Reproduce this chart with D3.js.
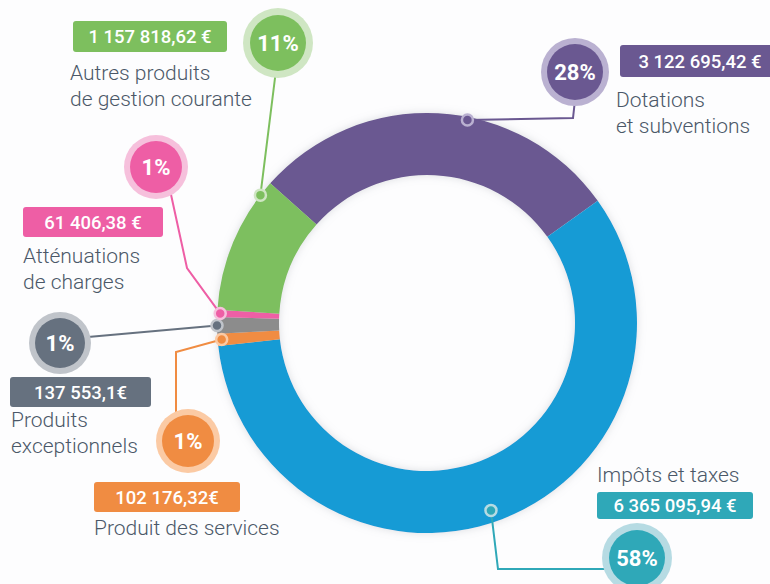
<!DOCTYPE html>
<html>
<head>
<meta charset="utf-8">
<script src="https://cdn.jsdelivr.net/npm/d3@7"></script>
<style>
  body { margin: 0; background: #fdfdfe; }
  text { font-family: Roboto, "Open Sans", sans-serif; }
  .lbl { font-size: 21px; font-weight: 300; fill: #4b5868; }
  .val { font-size: 18.5px; font-weight: 500; fill: #fff; }
  .pct { font-size: 22px; font-weight: 700; fill: #fff; }
</style>
</head>
<body>
<div id="chart"></div>
<script>
// data, clockwise from the top-left
var categories = ["Dotations et subventions", "Impôts et taxes", "Produit des services",
                  "Produits exceptionnels", "Atténuations de charges", "Autres produits de gestion courante"];
var amounts = [3122695.42, 6365095.94, 102176.32, 137553.1, 61406.38, 1157818.62];
var amountLabels = ["3 122 695,42 €", "6 365 095,94 €", "102 176,32€", "137 553,1€", "61 406,38 €", "1 157 818,62 €"];
var pctLabels = ["28%", "58%", "1%", "1%", "1%", "11%"];
var nameLines = [["Dotations", "et subventions"], ["Impôts et taxes"], ["Produit des services"],
                 ["Produits", "exceptionnels"], ["Atténuations", "de charges"], ["Autres produits", "de gestion courante"]];

var sliceColors = ["#6a5891", "#169bd5", "#f08c42", "#8c8c8c", "#ee5ea5", "#7dbf5e"];
var tagColors   = ["#6a5891", "#2fa8b8", "#f08c42", "#66717f", "#ee5ea5", "#7dbf5e"];
var paleColors  = ["#bab1d1", "#b6dbe3", "#fbcaa4", "#c0c4ca", "#f6c0dc", "#cfe6c3"];

var width = 770, height = 584;
var cx = 427, cy = 323, rOut = 210, rIn = 148;
var start = -48.3;

// callout layout (circle, tag box, text lines, elbows of the leader)
var callouts = [
  {dot: 0.58, dotR: 207, circle: [575, 72, 34, 28], box: [620, 45, 160, 32], lines: [616, 107], bend: [[573, 118], [575, 100]]},
  {dot: 0.51, dotR: 198, circle: [637, 558, 35, 28], box: [597, 492, 156, 27], lines: [597, 482], bend: [[498, 569], [610, 569]]},
  {dot: 0.5, dotR: 206, circle: [188, 441, 32, 26], box: [94, 482, 146, 30], lines: [94, 535], bend: [[176, 352], [176, 415]]},
  {dot: 0.5, dotR: 210, circle: [60, 343, 31, 25], box: [10, 377, 141, 30], lines: [11, 427], bend: [[88, 337]]},
  {dot: 0.5, dotR: 207, circle: [156, 167, 32, 26], box: [23, 207, 140, 30], lines: [23, 263], bend: [[187, 268], [170, 190]]},
  {dot: 0.89, dotR: 210, circle: [278, 43, 35, 28], box: [73, 21, 154, 31], lines: [70, 80], bend: [[276, 70]]}
];

var svg = d3.select("#chart").append("svg")
  .attr("width", width)
  .attr("height", height);

var defs = svg.append("defs");
var f = defs.append("filter").attr("id", "soft")
  .attr("x", "-20%").attr("y", "-20%").attr("width", "140%").attr("height", "140%");
f.append("feDropShadow").attr("dx", 0).attr("dy", 0).attr("stdDeviation", 4)
  .attr("flood-color", "#9aa0a8").attr("flood-opacity", 0.35);

var pie = d3.pie().sort(null).value(function(d) { return d; })
  .startAngle(start * Math.PI / 180)
  .endAngle(start * Math.PI / 180 + 2 * Math.PI);
var arcs = pie(amounts);

var arc = d3.arc().innerRadius(rIn).outerRadius(rOut);

var ring = svg.append("g")
  .attr("transform", "translate(" + cx + "," + cy + ")")
  .attr("filter", "url(#soft)");

ring.selectAll("path")
  .data(arcs)
  .enter().append("path")
  .attr("d", arc)
  .attr("fill", function(d, i) { return sliceColors[i]; });

// leader lines
var lineGen = d3.line();
arcs.forEach(function(a, i) {
  var c = callouts[i];
  var ang = a.startAngle + (a.endAngle - a.startAngle) * c.dot;
  var p = d3.pointRadial(ang, c.dotR);
  var dot = [cx + p[0], cy + p[1]];
  c.dotXY = dot;
  var pts = [dot].concat(c.bend).concat([[c.circle[0], c.circle[1]]]);
  svg.append("path")
    .attr("d", lineGen(pts))
    .attr("fill", "none")
    .attr("stroke", tagColors[i])
    .attr("stroke-width", 2);
});

// dots on the ring
svg.selectAll(".dot")
  .data(arcs)
  .enter().append("circle")
  .attr("class", "dot")
  .attr("cx", function(d, i) { return callouts[i].dotXY[0]; })
  .attr("cy", function(d, i) { return callouts[i].dotXY[1]; })
  .attr("r", 5.5)
  .attr("fill", function(d, i) { return tagColors[i]; })
  .attr("stroke", function(d, i) { return paleColors[i]; })
  .attr("stroke-width", 2.5);

// percentage bubbles
var bub = svg.selectAll(".bub")
  .data(arcs)
  .enter().append("g")
  .attr("class", "bub")
  .attr("transform", function(d, i) { return "translate(" + callouts[i].circle[0] + "," + callouts[i].circle[1] + ")"; });

bub.append("circle")
  .attr("r", function(d, i) { return callouts[i].circle[2]; })
  .attr("fill", function(d, i) { return paleColors[i]; });
bub.append("circle")
  .attr("r", function(d, i) { return callouts[i].circle[3]; })
  .attr("fill", function(d, i) { return tagColors[i]; });
bub.append("text")
  .attr("class", "pct")
  .attr("text-anchor", "middle")
  .attr("dy", "0.36em")
  .text(function(d, i) { return pctLabels[i]; });

// amount tags
var tag = svg.selectAll(".tag")
  .data(arcs)
  .enter().append("g")
  .attr("class", "tag");

tag.append("rect")
  .attr("x", function(d, i) { return callouts[i].box[0]; })
  .attr("y", function(d, i) { return callouts[i].box[1]; })
  .attr("width", function(d, i) { return callouts[i].box[2]; })
  .attr("height", function(d, i) { return callouts[i].box[3]; })
  .attr("rx", 3)
  .attr("fill", function(d, i) { return tagColors[i]; });

tag.append("text")
  .attr("class", "val")
  .attr("text-anchor", "middle")
  .attr("x", function(d, i) { return callouts[i].box[0] + callouts[i].box[2] / 2; })
  .attr("y", function(d, i) { return callouts[i].box[1] + callouts[i].box[3] / 2; })
  .attr("dy", "0.36em")
  .text(function(d, i) { return amountLabels[i]; });

// category names
var names = svg.selectAll(".name")
  .data(arcs)
  .enter().append("text")
  .attr("class", "lbl")
  .attr("x", function(d, i) { return callouts[i].lines[0]; })
  .attr("y", function(d, i) { return callouts[i].lines[1]; });

names.selectAll("tspan")
  .data(function(d, i) { return nameLines[i].map(function(s) { return {s: s, x: callouts[i].lines[0]}; }); })
  .enter().append("tspan")
  .attr("x", function(d) { return d.x; })
  .attr("dy", function(d, j) { return j === 0 ? 0 : 26; })
  .text(function(d) { return d.s; });
</script>
</body>
</html>
